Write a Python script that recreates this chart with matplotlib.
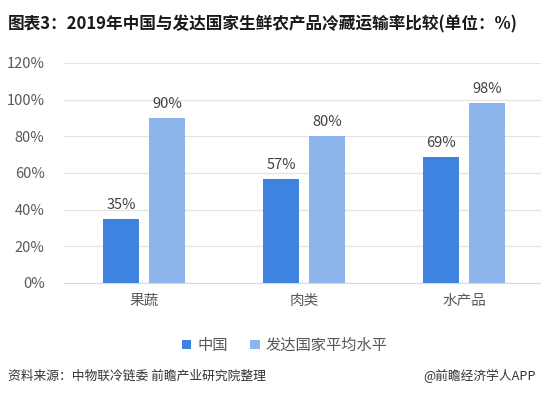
import numpy as np
import matplotlib
matplotlib.use('Agg')
from matplotlib import pyplot as plt

plt.rcParams['font.family'] = ['Noto Sans CJK SC', 'DejaVu Sans']

categories = ['果蔬', '肉类', '水产品']
china = [35, 57, 69]
developed = [90, 80, 98]
series_names = ['中国', '发达国家平均水平']
yticks = [0, 20, 40, 60, 80, 100, 120]

c_china = '#3f83e0'
c_dev = '#8cb5ec'
grey = '#595959'

fig = plt.figure(figsize=(5.41, 3.94), dpi=100)
ax = fig.add_axes([64 / 541, 111 / 394, 477 / 541, 220 / 394])

x = np.arange(len(categories))
w = 0.225
off = 0.144
b1 = ax.bar(x - off, china, w, color=c_china, label=series_names[0], zorder=3)
b2 = ax.bar(x + off, developed, w, color=c_dev, label=series_names[1], zorder=3)

for bars in (b1, b2):
    for r in bars:
        ax.annotate(f'{r.get_height():.0f}%', (r.get_x() + r.get_width() / 2, r.get_height()),
                    xytext=(0, 5), textcoords='offset points', ha='center', va='bottom',
                    fontsize=10.5, color='#404040')

ax.set_xlim(-0.5, 2.48)
ax.set_ylim(0, 120)
ax.set_yticks(yticks)
ax.set_yticklabels([f'{v}%' for v in yticks], fontsize=10.5, color=grey)
ax.set_xticks(x)
ax.set_xticklabels(categories, fontsize=10.5, color=grey)
ax.tick_params(axis='both', length=0)
ax.tick_params(axis='y', pad=14)
ax.tick_params(axis='x', pad=8)
ax.grid(axis='y', color='#e3e3e3', linewidth=0.9, zorder=0)
for s in ['top', 'right', 'left']:
    ax.spines[s].set_visible(False)
ax.spines['bottom'].set_color('#d9d9d9')

ax.legend(loc='upper left', bbox_to_anchor=(168 / 541, 1 - 323 / 394), bbox_transform=fig.transFigure,
          ncol=2, frameon=False, fontsize=11, handlelength=0.6, handleheight=0.6,
          handletextpad=0.4, columnspacing=1.5, labelcolor=grey)

fig.text(8 / 541, 1 - 24 / 394, '图表3：2019年中国与发达国家生鲜农产品冷藏运输率比较(单位：%)',
         fontsize=12, fontweight='bold', color='#1a1a1a', va='center', ha='left')
fig.text(8 / 541, 1 - 376 / 394, '资料来源：中物联冷链委 前瞻产业研究院整理',
         fontsize=9.2, color='#333333', va='center', ha='left')
fig.text(536 / 541, 1 - 376 / 394, '@前瞻经济学人APP',
         fontsize=9.2, color='#333333', va='center', ha='right')

fig.savefig('out.png', dpi=100)
